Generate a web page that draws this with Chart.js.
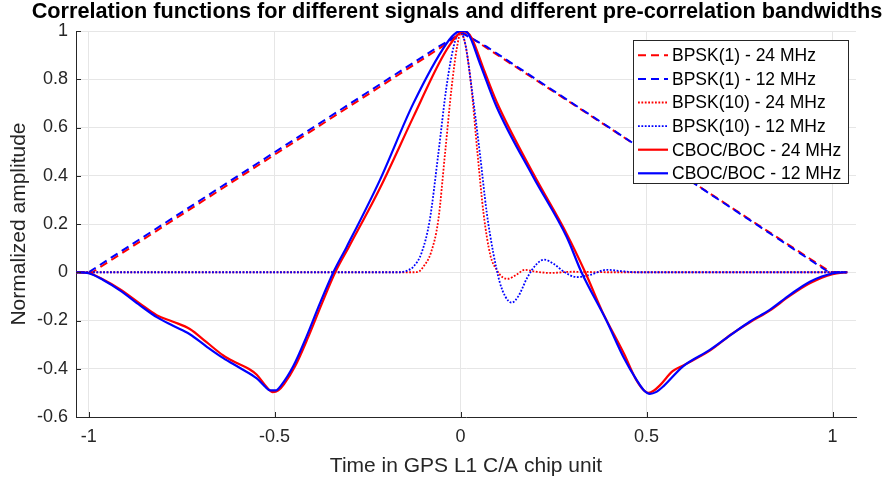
<!DOCTYPE html>
<html><head><meta charset="utf-8">
<script src="https://cdn.jsdelivr.net/npm/chart.js@4.4.0/dist/chart.umd.min.js"></script>
<style>html,body{margin:0;padding:0;background:#fff;}#wrap{width:889px;height:480px;position:relative;}</style>
</head><body><div id="wrap"><canvas id="c" width="889" height="480"></canvas></div>
<script>
const titleText = 'Correlation functions for different signals and different pre-correlation bandwidths';
const xAxisTitle = 'Time in GPS L1 C/A chip unit';
const yAxisTitle = 'Normalized amplitude';
const xTicks = [-1, -0.5, 0, 0.5, 1];
const yTicks = [-0.6, -0.4, -0.2, 0, 0.2, 0.4, 0.6, 0.8, 1];
const seriesNames = ['BPSK(1) - 24 MHz', 'BPSK(1) - 12 MHz', 'BPSK(10) - 24 MHz', 'BPSK(10) - 12 MHz', 'CBOC/BOC - 24 MHz', 'CBOC/BOC - 12 MHz'];

// BPSK(1)
const bpsk1_24_t = [-1.034, -0.99, -0.05, -0.02, 0.005, 0.03, 0.06, 0.995, 1.04];
const bpsk1_24_v = [0, 0.0, 0.935, 0.97, 0.995, 0.97, 0.94, 0.0, 0];
const bpsk1_12_t = [-1.034, -1.0, -0.06, -0.025, 0.005, 0.035, 0.07, 0.99, 1.04];
const bpsk1_12_v = [0, 0.0, 0.935, 0.965, 0.99, 0.965, 0.935, 0.0, 0];

// BPSK(10)
const bpsk10_24_t = [-1.034, -0.125, -0.11, -0.1, -0.08, -0.06, -0.042, -0.024, -0.01, 0.0, 0.012, 0.028, 0.045, 0.062, 0.08, 0.097, 0.112, 0.127, 0.15, 0.173, 0.2, 0.24, 0.3, 0.4, 1.04];
const bpsk10_24_v = [0, 0, 0.005, 0.023, 0.08, 0.216, 0.49, 0.768, 0.93, 0.99, 0.95, 0.78, 0.5, 0.24, 0.07, 0.01, -0.02, -0.027, -0.01, 0.01, 0.003, -0.003, 0.002, 0, 0];
const bpsk10_12_t = [-1.034, -0.165, -0.145, -0.127, -0.105, -0.083, -0.06, -0.038, -0.018, -0.003, 0.012, 0.03, 0.052, 0.07, 0.088, 0.105, 0.12, 0.137, 0.155, 0.18, 0.205, 0.225, 0.25, 0.28, 0.312, 0.35, 0.392, 0.43, 0.47, 1.04];
const bpsk10_12_v = [0, 0, 0.006, 0.023, 0.08, 0.216, 0.49, 0.768, 0.94, 0.995, 0.95, 0.76, 0.49, 0.25, 0.079, -0.04, -0.1, -0.126, -0.1, -0.02, 0.035, 0.052, 0.035, 0.0, -0.02, -0.01, 0.01, 0.005, 0, 0];

// CBOC/BOC
const cboc_24_t = [-1.034, -1.0, -0.961, -0.916, -0.862, -0.817, -0.773, -0.728, -0.683, -0.638, -0.61, -0.57, -0.548, -0.522, -0.505, -0.49, -0.475, -0.445, -0.41, -0.373, -0.337, -0.3, -0.217, -0.127, -0.06, -0.03, 0.0, 0.01, 0.03, 0.06, 0.097, 0.195, 0.285, 0.335, 0.38, 0.44, 0.47, 0.49, 0.505, 0.52, 0.535, 0.57, 0.6, 0.67, 0.73, 0.78, 0.83, 0.885, 0.94, 1.0, 1.038];
const cboc_24_v = [0, -0.003, -0.03, -0.07, -0.13, -0.178, -0.205, -0.235, -0.29, -0.345, -0.37, -0.4, -0.425, -0.475, -0.497, -0.49, -0.465, -0.39, -0.27, -0.13, 0.0, 0.106, 0.348, 0.644, 0.86, 0.94, 0.995, 1.0, 0.97, 0.85, 0.706, 0.41, 0.16, 0.0, -0.16, -0.34, -0.44, -0.485, -0.5, -0.49, -0.47, -0.41, -0.385, -0.325, -0.255, -0.205, -0.16, -0.098, -0.045, -0.008, 0];
const cboc_12_t = [-1.034, -1.0, -0.961, -0.916, -0.862, -0.817, -0.773, -0.728, -0.683, -0.638, -0.593, -0.548, -0.527, -0.512, -0.497, -0.483, -0.45, -0.414, -0.378, -0.342, -0.306, -0.217, -0.127, -0.038, -0.01, 0.005, 0.02, 0.052, 0.097, 0.195, 0.285, 0.325, 0.392, 0.437, 0.473, 0.493, 0.509, 0.525, 0.545, 0.598, 0.67, 0.733, 0.778, 0.831, 0.885, 0.939, 1.002, 1.038];
const cboc_12_v = [0, -0.004, -0.032, -0.075, -0.137, -0.186, -0.222, -0.257, -0.308, -0.356, -0.397, -0.44, -0.472, -0.49, -0.49, -0.47, -0.39, -0.266, -0.128, 0.0, 0.106, 0.382, 0.7, 0.948, 0.995, 1.0, 0.99, 0.865, 0.685, 0.396, 0.147, 0.0, -0.2, -0.349, -0.446, -0.49, -0.504, -0.497, -0.473, -0.39, -0.322, -0.252, -0.204, -0.156, -0.094, -0.039, -0.004, 0];

const FONT = "'Liberation Sans', Arial, Helvetica, sans-serif";
const AX = '#262626';
const RED = '#ff0000', BLUE = '#0000ff';

function pts(t, v) { return t.map((x, i) => ({x: x, y: v[i]})); }

const seriesData = [
  pts(bpsk1_24_t, bpsk1_24_v), pts(bpsk1_12_t, bpsk1_12_v),
  pts(bpsk10_24_t, bpsk10_24_v), pts(bpsk10_12_t, bpsk10_12_v),
  pts(cboc_24_t, cboc_24_v), pts(cboc_12_t, cboc_12_v)
];
const styles = [
  {c: RED, w: 2, d: [8, 5], m: 'default'},
  {c: BLUE, w: 2, d: [8, 5], m: 'default'},
  {c: RED, w: 1.8, d: [1.8, 1.6], m: 'monotone'},
  {c: BLUE, w: 1.8, d: [1.8, 1.6], m: 'monotone'},
  {c: RED, w: 2.2, d: [], m: 'monotone'},
  {c: BLUE, w: 2.2, d: [], m: 'monotone'}
];

const datasets = seriesNames.map((name, i) => ({
  label: name,
  data: seriesData[i],
  borderColor: styles[i].c,
  backgroundColor: styles[i].c,
  borderWidth: styles[i].w,
  borderDash: styles[i].d,
  cubicInterpolationMode: styles[i].m,
  tension: 0,
  pointRadius: 0,
  fill: false,
  order: seriesNames.length - i
}));

const decor = {
  id: 'decor',
  beforeDraw(chart) {
    const ctx = chart.ctx;
    ctx.save(); ctx.fillStyle = '#fff'; ctx.fillRect(0, 0, chart.width, chart.height); ctx.restore();
  },
  afterDraw(chart) {
    const ctx = chart.ctx, a = chart.chartArea;
    const xs = chart.scales.x, ys = chart.scales.y;
    ctx.save();
    // inward tick marks
    ctx.strokeStyle = AX; ctx.lineWidth = 1; ctx.setLineDash([]);
    ctx.beginPath();
    xTicks.forEach(v => { const p = Math.round(xs.getPixelForValue(v)) + 0.5; ctx.moveTo(p, a.bottom); ctx.lineTo(p, a.bottom - 5); });
    yTicks.forEach(v => { const p = Math.round(ys.getPixelForValue(v)) + 0.5; ctx.moveTo(a.left, p); ctx.lineTo(a.left + 5, p); });
    ctx.stroke();
    // title
    ctx.fillStyle = '#000';
    ctx.font = 'bold 21.7px ' + FONT;
    ctx.textAlign = 'center'; ctx.textBaseline = 'alphabetic';
    ctx.fillText(titleText, 457, 18);
    // legend
    const bx = 633.5, by = 40.5, bw = 215, bh = 143;
    ctx.fillStyle = '#fff'; ctx.fillRect(bx, by, bw, bh);
    ctx.strokeStyle = AX; ctx.lineWidth = 1; ctx.strokeRect(bx, by, bw, bh);
    ctx.font = '17.5px ' + FONT; ctx.textAlign = 'left'; ctx.textBaseline = 'middle';
    chart.data.datasets.forEach((ds, i) => {
      const y = 55.3 + i * 23.6;
      ctx.strokeStyle = ds.borderColor; ctx.lineWidth = ds.borderWidth; ctx.setLineDash(ds.borderDash);
      ctx.beginPath(); ctx.moveTo(638, y); ctx.lineTo(668, y); ctx.stroke();
      ctx.setLineDash([]);
      ctx.fillStyle = '#000'; ctx.fillText(ds.label, 672, y + 1);
    });
    ctx.restore();
  }
};

new Chart(document.getElementById('c'), {
  type: 'line',
  data: {datasets: datasets},
  plugins: [decor],
  options: {
    responsive: false,
    animation: false,
    devicePixelRatio: 1,
    events: [],
    layout: {padding: {left: 0, right: 33, top: 31, bottom: 0}},
    plugins: {legend: {display: false}, title: {display: false}, tooltip: {enabled: false}},
    scales: {
      x: {
        type: 'linear', min: -1.034, max: 1.063,
        afterBuildTicks: s => { s.ticks = xTicks.map(v => ({value: v})); },
        afterFit: s => { s.height = 63; },
        grid: {color: '#e6e6e6', drawTicks: false},
        border: {color: AX, width: 1},
        ticks: {padding: 9, color: AX, font: {family: FONT, size: 18}, maxRotation: 0, autoSkip: false, callback: v => String(v)},
        title: {display: true, text: xAxisTitle, color: AX, font: {family: FONT, size: 21}, padding: {top: 0, bottom: 1.5}}
      },
      y: {
        type: 'linear', min: -0.6, max: 1,
        afterBuildTicks: s => { s.ticks = yTicks.map(v => ({value: v})); },
        afterFit: s => { s.width = 76; },
        grid: {color: '#e6e6e6', drawTicks: false},
        border: {color: AX, width: 1},
        ticks: {padding: 8, color: AX, font: {family: FONT, size: 18}, autoSkip: false, callback: v => String(Math.round(v * 10) / 10)},
        title: {display: true, text: yAxisTitle, color: AX, font: {family: FONT, size: 21}, padding: {top: 7, bottom: 0}}
      }
    }
  }
});
</script>
</body></html>
